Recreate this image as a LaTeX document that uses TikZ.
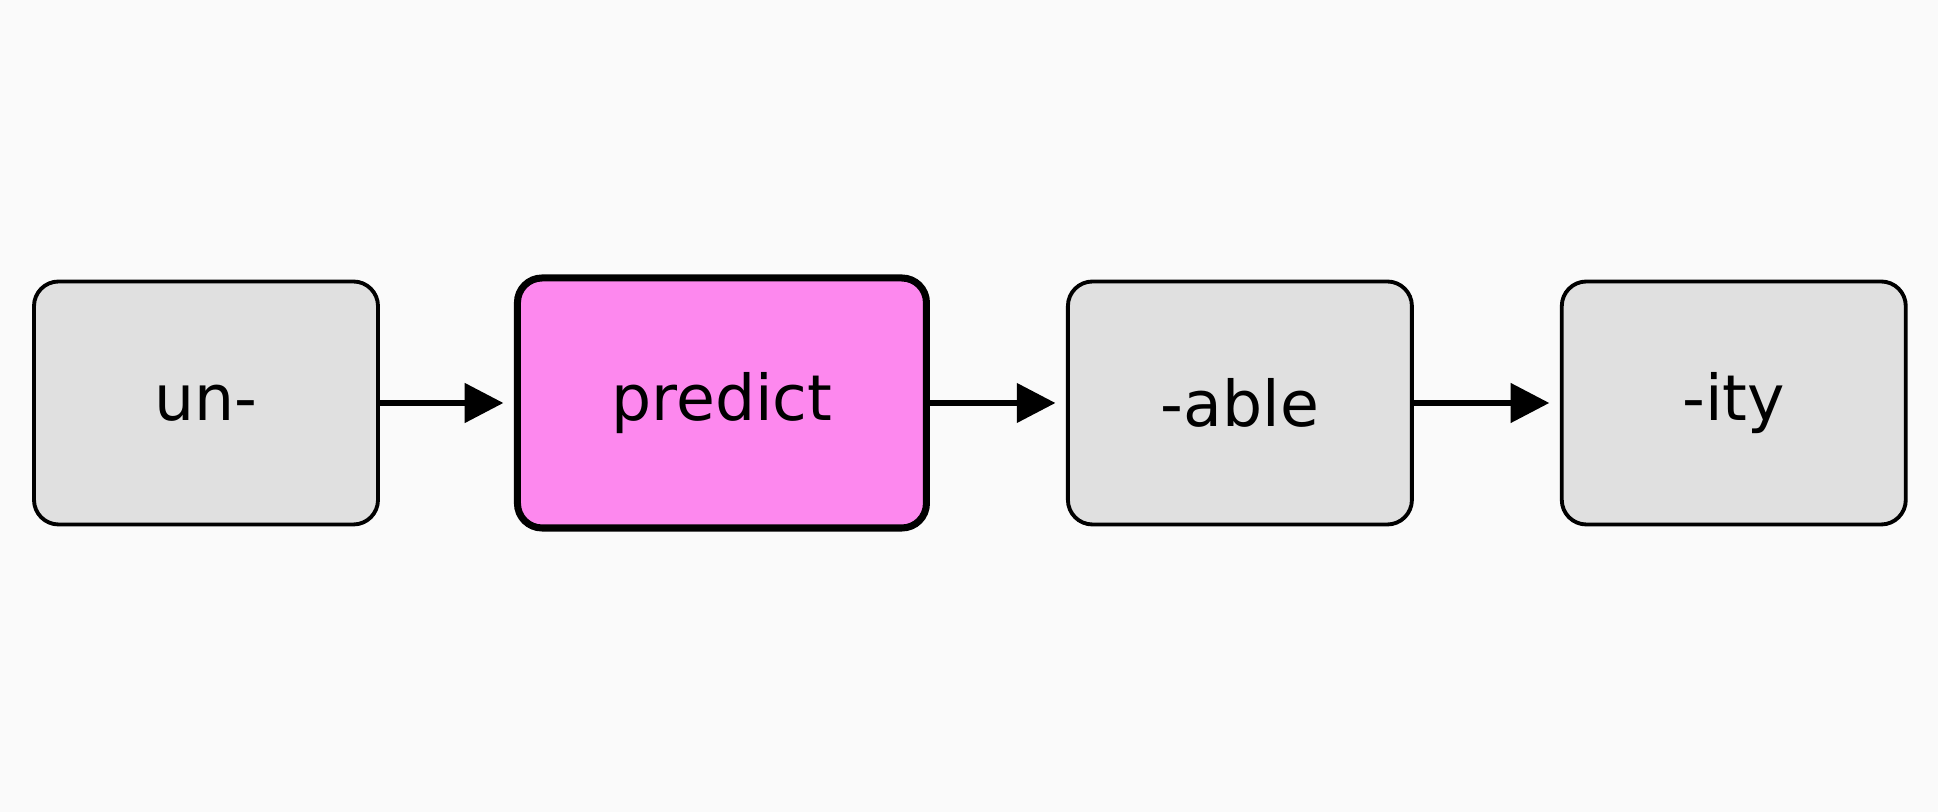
\documentclass[tikz,border=0pt]{standalone}
\usepackage{fontspec}
\setmainfont{DejaVu Sans}
\usetikzlibrary{arrows.meta,positioning}
\definecolor{rootpink}{HTML}{FD88EE}

\begin{document}
\begin{tikzpicture}[
    node distance=1.34cm,
    morph/.style={rectangle, draw=black, fill=black!12, line width=1.1pt, minimum width=3.44cm, minimum height=2.43cm, text centered, rounded corners=7pt, font=\fontsize{18}{20}\selectfont},
    stem/.style={morph, fill=rootpink, line width=2pt, minimum width=4.09cm, minimum height=2.5cm},
    arrow/.style={-{Triangle[length=11pt,width=11pt]}, line width=1.6pt, shorten >=3pt}
]
    \useasboundingbox[fill=white!98!black] (0,0) rectangle (19.38,8.12);

    % Morphemes
    \node[morph] (prefix) at (2.06,4.09) {un-};
    \node[stem, right=of prefix] (root) {predict};
    \node[morph, right=1.36cm of root] (adj) {-able};
    \node[morph, right=1.46cm of adj] (noun) {-ity};

    % Arrows
    \draw[arrow] (prefix) -- (root);
    \draw[arrow] (root) -- (adj);
    \draw[arrow] (adj) -- (noun);
\end{tikzpicture}
\end{document}
